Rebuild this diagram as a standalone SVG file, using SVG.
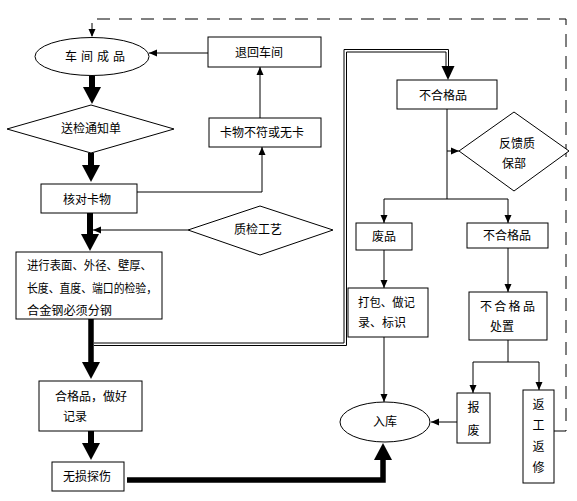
<svg xmlns="http://www.w3.org/2000/svg" width="577" height="501" viewBox="0 0 577 501">
<style>
.box{fill:#fff;stroke:#000;stroke-width:1}
.ln{fill:none;stroke:#000;stroke-width:1}
.dash{fill:none;stroke:#000;stroke-width:1;stroke-dasharray:13 9}
.thick{fill:none;stroke:#000;stroke-width:6}
text{font-family:"Noto Sans CJK SC","Noto Sans CJK TC",sans-serif;font-size:12px;fill:#000}
.c{text-anchor:middle}
</style>
<defs>
<marker id="sm" markerUnits="userSpaceOnUse" markerWidth="8" markerHeight="8" viewBox="0 0 8 8" refX="8" refY="4" orient="auto">
<path d="M0,0.5 L8,4 L0,7.5 z" fill="#000"/>
</marker>
<marker id="big" markerUnits="userSpaceOnUse" markerWidth="18" markerHeight="18" viewBox="0 0 18 18" refX="1" refY="9" orient="auto">
<path d="M0,0 L17,9 L0,18 z" fill="#000"/>
</marker>
</defs>
<rect width="577" height="501" fill="#fff"/>
<g id="connectors">
<path class="dash" d="M554,431 H566 V19 H92 V37" marker-end="url(#sm)"/>
<path class="ln" d="M208,53 H149" marker-end="url(#sm)"/>
<path class="thick" d="M92,76 V88" marker-end="url(#big)"/>
<path class="thick" d="M91,153 V166" marker-end="url(#big)"/>
<path class="thick" d="M90,213 V235" marker-end="url(#big)"/>
<path class="thick" d="M91,319 V363" marker-end="url(#big)" style="stroke-width:5.5"/>
<path class="thick" d="M91,431 V444" marker-end="url(#big)"/>
<path class="thick" d="M127,480 H383 V459" marker-end="url(#big)" style="stroke-width:5.5"/>
<path class="ln" d="M137,192 H262 V147" marker-end="url(#sm)"/>
<path class="ln" d="M260,118 V67" marker-end="url(#sm)"/>
<path class="ln" d="M188,230 H93" marker-end="url(#sm)"/>
<path class="ln" d="M94,343 H344 V49.5 H448.5 V67"/>
<path class="ln" d="M94,345.5 H346.5 V52 H446 V67"/>
<polygon points="441.5,66 454.5,66 448,80" fill="#000"/>
<path class="ln" d="M447,109 V199"/>
<path class="ln" d="M447,151 H459" marker-end="url(#sm)"/>
<path class="ln" d="M447,199 H384 V223" marker-end="url(#sm)"/>
<path class="ln" d="M447,199 H508 V223" marker-end="url(#sm)"/>
<path class="ln" d="M384,250 V288" marker-end="url(#sm)"/>
<path class="ln" d="M384,337 V402" marker-end="url(#sm)"/>
<path class="ln" d="M508,248 V292" marker-end="url(#sm)"/>
<path class="ln" d="M508,340 V362 H473 V393" marker-end="url(#sm)"/>
<path class="ln" d="M508,362 H539 V390" marker-end="url(#sm)"/>
<path class="ln" d="M457,422 H431" marker-end="url(#sm)"/>
</g>
<g id="n1">
<ellipse class="box" cx="92" cy="56.5" rx="57" ry="19"/>
<text x="65" y="61" style="letter-spacing:4px">车间成品</text>
</g>
<g id="n2">
<rect class="box" x="208" y="37" width="113" height="30"/>
<text class="c" x="259" y="57">退回车间</text>
</g>
<g id="n3">
<polygon class="box" points="7,129 91,105 174,129 91,153"/>
<text class="c" x="91" y="133">送检通知单</text>
</g>
<g id="n4">
<rect class="box" x="209" y="118" width="112" height="29"/>
<text class="c" x="262" y="137">卡物不符或无卡</text>
</g>
<g id="n5">
<rect class="box" x="41" y="184" width="96" height="29"/>
<text x="63" y="204">核对卡物</text>
</g>
<g id="n6">
<polygon class="box" points="188,230 260,206 333,230 260,255"/>
<text class="c" x="258" y="234">质检工艺</text>
</g>
<g id="n7">
<rect class="box" x="16" y="252" width="146" height="67"/>
<text x="27" y="270" textLength="125" lengthAdjust="spacingAndGlyphs">进行表面、外径、壁厚、</text>
<text x="27" y="292.5" textLength="130" lengthAdjust="spacingAndGlyphs">长度、直度、端口的检验，</text>
<text x="27" y="314.5" textLength="85" lengthAdjust="spacingAndGlyphs">合金钢必须分钢</text>
</g>
<g id="n8">
<rect class="box" x="39" y="381" width="103" height="50"/>
<text x="55" y="401">合格品，做好</text>
<text x="63" y="421">记录</text>
</g>
<g id="n9">
<rect class="box" x="52" y="462" width="72" height="29"/>
<text x="63" y="481">无损探伤</text>
</g>
<g id="n10">
<rect class="box" x="397" y="80" width="100" height="29"/>
<text x="419" y="100">不合格品</text>
</g>
<g id="n11">
<polygon class="box" points="459,151 514,112 569,151 514,191"/>
<text x="499" y="148">反馈质</text>
<text x="502" y="168">保部</text>
</g>
<g id="n12">
<rect class="box" x="356" y="223" width="56" height="27"/>
<text x="372" y="241">废品</text>
</g>
<g id="n13">
<rect class="box" x="467" y="223" width="81" height="25"/>
<text x="483" y="240">不合格品</text>
</g>
<g id="n14">
<rect class="box" x="348" y="288" width="80" height="49"/>
<text x="358" y="307" textLength="57" lengthAdjust="spacingAndGlyphs">打包、做记</text>
<text x="358" y="327">录、标识</text>
</g>
<g id="n15">
<rect class="box" x="469" y="292" width="78" height="48"/>
<text x="480" y="311" style="letter-spacing:2.3px">不合格品</text>
<text x="490" y="331">处置</text>
</g>
<g id="n16">
<rect class="box" x="457" y="393" width="33" height="50"/>
<text class="c" x="473.5" y="412">报</text>
<text class="c" x="473.5" y="435">废</text>
</g>
<g id="n17">
<rect class="box" x="523" y="390" width="31" height="93"/>
<text class="c" x="538.5" y="409">返</text>
<text class="c" x="538.5" y="430">工</text>
<text class="c" x="538.5" y="451">返</text>
<text class="c" x="538.5" y="472">修</text>
</g>
<g id="n18">
<ellipse class="box" cx="385" cy="422" rx="45" ry="20"/>
<text x="373" y="426">入库</text>
</g>
</svg>
